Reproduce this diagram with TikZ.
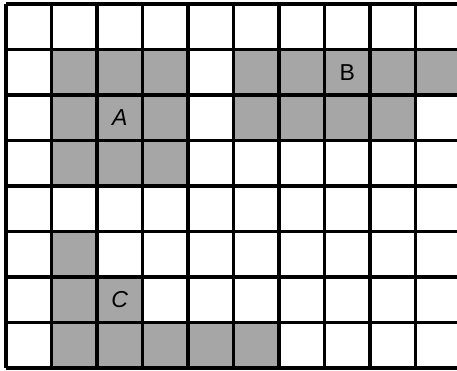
\documentclass[tikz,border=0pt]{standalone}
\usepackage{fontspec}
\usepackage{tikz}
\newfontfamily\lblfont{Liberation Sans}
\definecolor{CellGray}{RGB}{166,166,166}
\tikzset{
  fig_fill/.style={fill=CellGray},
  grid_line/.style={black,line width=2.2pt},
  lbl/.style={font=\lblfont\Large,inner sep=0pt},
}
\begin{document}
\begin{tikzpicture}[x=1cm,y=1cm]

\useasboundingbox (-0.132,-0.044) rectangle (9.912,8.088);
\def\Rx{9.912}

% figures
\fill[fig_fill] (1,4) rectangle (4,7);
\fill[fig_fill] (5,6) rectangle (\Rx,7);
\fill[fig_fill] (5,5) rectangle (9,6);
\fill[fig_fill] (1,0)--(6,0)--(6,1)--(3,1)--(3,2)--(2,2)--(2,3)--(1,3)--cycle;

% grid
\draw[grid_line] (0,0) grid (\Rx,8);

% labels
\node[lbl] at (2.5,5.5) (LA){\itshape A};
\node[lbl] at (7.5,6.5) (LB){B};
\node[lbl] at (2.5,1.5) (LC){\itshape C};

\end{tikzpicture}
\end{document}
